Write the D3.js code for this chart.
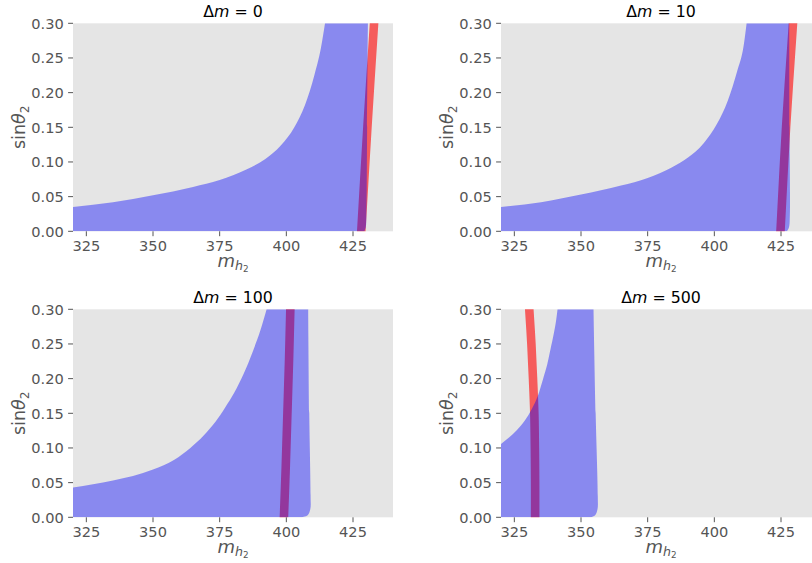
<!DOCTYPE html>
<html><head><meta charset="utf-8">
<script src="https://cdn.jsdelivr.net/npm/d3@7"></script>
<style>
body{margin:0;background:#fff}
svg{display:block}
text{font-family:"DejaVu Sans",sans-serif;white-space:pre}
</style>
</head><body>
<svg id="chart" width="812" height="563"></svg>
<script>
// ---------- data ----------
const deltaM = [0, 10, 100, 500];
const xTicks = [325, 350, 375, 400, 425];
const yTicks = [0.00, 0.05, 0.10, 0.15, 0.20, 0.25, 0.30];
const xDomain = [320, 440];
const yDomain = [0, 0.30];

// panel Δm = 0 : upper-left edge of allowed (blue) region
const leftX0 = [320, 335, 350, 365, 375, 385, 392, 398, 403, 407, 410.5, 413, 414.5];
const leftY0 = [0.035, 0.042, 0.052, 0.064, 0.074, 0.089, 0.104, 0.124, 0.150, 0.182, 0.225, 0.265, 0.30];
const rightX0 = [430.6, 430.3, 430.0, 429.8, 429.2];
const rightY0 = [0.30, 0.15, 0.02, 0.006, 0.0];
const redX0 = [428.1, 430.4, 432.9];
const redY0 = [0.0, 0.15, 0.30];

// panel Δm = 10
const leftX1 = [320, 335, 350, 365, 375, 384, 390, 396, 401, 405, 408.5, 411, 412.1];
const leftY1 = [0.035, 0.042, 0.053, 0.066, 0.077, 0.092, 0.106, 0.127, 0.155, 0.188, 0.230, 0.268, 0.30];
const rightX1 = [428.1, 428.2, 428.3, 428.0, 427.2];
const rightY1 = [0.30, 0.15, 0.02, 0.006, 0.0];
const redX1 = [424.8, 426.9, 429.5];
const redY1 = [0.0, 0.15, 0.30];

// panel Δm = 100
const leftX2 = [320, 335, 350, 358, 364, 369, 373.5, 377, 380.5, 384, 387.5, 390.3, 392.6];
const leftY2 = [0.043, 0.053, 0.069, 0.083, 0.100, 0.118, 0.138, 0.158, 0.180, 0.207, 0.240, 0.270, 0.30];
const rightX2 = [408.2, 408.6, 409.1, 409.0, 408.0, 405.5];
const rightY2 = [0.30, 0.15, 0.03, 0.012, 0.003, 0.0];
const redX2 = [399.1, 399.8, 400.4, 401.0, 401.5];
const redY2 = [0.0, 0.075, 0.15, 0.225, 0.30];

// panel Δm = 500
const leftX3 = [320, 323, 326, 329, 331.5, 333.8, 335.8, 337.3, 338.6, 339.8, 340.7, 341.2];
const leftY3 = [0.1057, 0.115, 0.126, 0.140, 0.156, 0.175, 0.200, 0.220, 0.243, 0.265, 0.285, 0.30];
const rightX3 = [354.7, 355.5, 356.3, 356.2, 355.3, 353.5];
const rightY3 = [0.30, 0.15, 0.03, 0.012, 0.003, 0.0];
const redX3 = [332.8, 332.8, 332.7, 332.5, 332.0, 331.4, 330.6];
const redY3 = [0.0, 0.05, 0.10, 0.15, 0.20, 0.25, 0.30];

const leftXs = [leftX0, leftX1, leftX2, leftX3];
const leftYs = [leftY0, leftY1, leftY2, leftY3];
const rightXs = [rightX0, rightX1, rightX2, rightX3];
const rightYs = [rightY0, rightY1, rightY2, rightY3];
const redXs = [redX0, redX1, redX2, redX3];
const redYs = [redY0, redY1, redY2, redY3];

// ---------- layout ----------
const panelLeft = [73, 501, 73, 501];
const panelTop = [23.3, 23.3, 309.3, 309.3];
const W = 320, H = 208;
const tickColor = "#555555";

const svg = d3.select("#chart");
const zip = (xs, ys) => xs.map((x, i) => [x, ys[i]]);

deltaM.forEach((dm, i) => {
  const g = svg.append("g").attr("transform", `translate(${panelLeft[i]},${panelTop[i]})`);
  const x = d3.scaleLinear().domain(xDomain).range([0, W]);
  const y = d3.scaleLinear().domain(yDomain).range([H, 0]);

  g.append("rect").attr("width", W).attr("height", H).attr("fill", "#e5e5e5");

  const clipId = "clip" + i;
  g.append("clipPath").attr("id", clipId).append("rect").attr("width", W).attr("height", H);
  const plot = g.append("g").attr("clip-path", `url(#${clipId})`);

  // red band (below the blue region)
  const redLine = d3.line().x(d => x(d[0])).y(d => y(d[1])).curve(d3.curveCatmullRom);
  plot.append("path")
    .attr("d", redLine(zip(redXs[i], redYs[i])))
    .attr("fill", "none")
    .attr("stroke", "rgba(255,0,0,0.6)")
    .attr("stroke-width", 8.6)
    .attr("stroke-linecap", "square");

  // blue allowed region
  const leftCurve = d3.line().x(d => x(d[0])).y(d => y(d[1])).curve(d3.curveMonotoneX);
  const rightCurve = d3.line().x(d => x(d[0])).y(d => y(d[1])).curve(d3.curveCatmullRom);
  const dPath = `M${x(xDomain[0])},${y(0)}` +
    leftCurve(zip(leftXs[i], leftYs[i])).replace(/^M/, "L") +
    rightCurve(zip(rightXs[i], rightYs[i])).replace(/^M/, "L") + "Z";
  plot.append("path")
    .attr("d", dPath)
    .attr("fill", "rgba(0,0,255,0.4)")
    .attr("stroke", "none");

  // x axis
  const xa = g.append("g").attr("transform", `translate(0,${H})`);
  xTicks.forEach(t => {
    xa.append("line").attr("x1", x(t)).attr("x2", x(t)).attr("y1", 0).attr("y2", 4.9)
      .attr("stroke", tickColor).attr("stroke-width", 1);
    xa.append("text").attr("x", x(t)).attr("y", 19.7).attr("text-anchor", "middle")
      .attr("font-size", "14.6px").attr("fill", tickColor).text(d3.format("d")(t));
  });
  // y axis
  const ya = g.append("g");
  yTicks.forEach(t => {
    ya.append("line").attr("x1", -4.9).attr("x2", 0).attr("y1", y(t)).attr("y2", y(t))
      .attr("stroke", tickColor).attr("stroke-width", 1);
    ya.append("text").attr("x", -9.2).attr("y", y(t)).attr("dy", "0.36em").attr("text-anchor", "end")
      .attr("font-size", "14.6px").attr("fill", tickColor).text(d3.format(".2f")(t));
  });

  // title
  const title = g.append("text").attr("x", W / 2).attr("y", -6.6).attr("text-anchor", "middle")
    .attr("font-size", "15.8px").attr("fill", "#000");
  title.append("tspan").text("Δ");
  title.append("tspan").attr("font-style", "italic").text("m");
  title.append("tspan").text(" = " + dm);

  // x label
  const xl = g.append("text").attr("x", W / 2).attr("y", H + 35.5).attr("text-anchor", "middle")
    .attr("font-size", "18px").attr("fill", tickColor);
  xl.append("tspan").attr("font-style", "italic").text("m");
  xl.append("tspan").attr("font-style", "italic").attr("font-size", "12.6px").attr("dy", "0.22em").text("h");
  xl.append("tspan").attr("font-size", "8.8px").attr("dy", "0.3em").text("2");

  // y label
  const yl = g.append("text").attr("transform", `translate(${-48},${H / 2}) rotate(-90)`)
    .attr("text-anchor", "middle").attr("font-size", "17.5px").attr("fill", tickColor);
  yl.append("tspan").text("sin");
  yl.append("tspan").attr("font-style", "italic").text("θ");
  yl.append("tspan").attr("font-size", "12.2px").attr("dy", "0.3em").text("2");
});
</script>
</body></html>
